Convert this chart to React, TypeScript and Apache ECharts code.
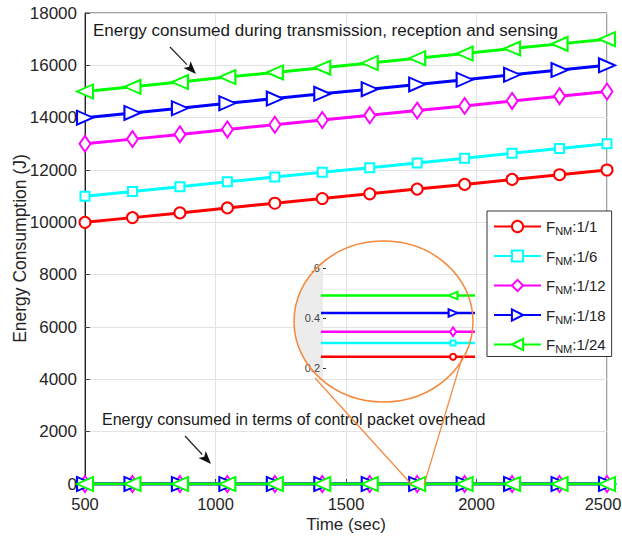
import React, { useEffect, useRef } from "react";
import * as echarts from "echarts";

// ---- data ----
const timeSec = [500, 681.8, 863.6, 1045.5, 1227.3, 1409.1, 1590.9, 1772.7, 1954.5, 2136.4, 2318.2, 2500];
const legendNames = ["FNM:1/1", "FNM:1/6", "FNM:1/12", "FNM:1/18", "FNM:1/24"];

// energy consumed during transmission, reception and sensing
const sense_1_1 = [10000, 10180, 10360, 10550, 10730, 10910, 11090, 11270, 11450, 11640, 11820, 12000];
const sense_1_6 = [11000, 11180, 11360, 11550, 11730, 11910, 12090, 12270, 12450, 12640, 12820, 13000];
const sense_1_12 = [13000, 13180, 13360, 13550, 13730, 13910, 14090, 14270, 14450, 14640, 14820, 15000];
const sense_1_18 = [14000, 14180, 14360, 14550, 14730, 14910, 15090, 15270, 15450, 15640, 15820, 16000];
const sense_1_24 = [15000, 15180, 15360, 15550, 15730, 15910, 16090, 16270, 16450, 16640, 16820, 17000];

// energy consumed in terms of control packet overhead
const ctrl_1_1 = [0.245, 0.245, 0.245, 0.245, 0.245, 0.245, 0.245, 0.245, 0.245, 0.245, 0.245, 0.245];
const ctrl_1_6 = [0.3, 0.3, 0.3, 0.3, 0.3, 0.3, 0.3, 0.3, 0.3, 0.3, 0.3, 0.3];
const ctrl_1_12 = [0.345, 0.345, 0.345, 0.345, 0.345, 0.345, 0.345, 0.345, 0.345, 0.345, 0.345, 0.345];
const ctrl_1_18 = [0.42, 0.42, 0.42, 0.42, 0.42, 0.42, 0.42, 0.42, 0.42, 0.42, 0.42, 0.42];
const ctrl_1_24 = [0.49, 0.49, 0.49, 0.49, 0.49, 0.49, 0.49, 0.49, 0.49, 0.49, 0.49, 0.49];

const mainYTicks = { min: 0, max: 18000, interval: 2000 };
const mainXTicks = { min: 500, max: 2500, interval: 500 };
const insetYTicks = { min: 0.2, max: 0.6, interval: 0.2 };

const senseSets = [sense_1_1, sense_1_6, sense_1_12, sense_1_18, sense_1_24];
const ctrlSets = [ctrl_1_1, ctrl_1_6, ctrl_1_12, ctrl_1_18, ctrl_1_24];

// ---- styles ----
const colors = ["#ff0000", "#00ffff", "#ff00ff", "#0000ff", "#00ff00"];
const symbols = ["emptyCircle", "emptyRect", "emptyDiamond", "emptyTriangle", "emptyTriangle"];
const symbolSizes: any[] = [11, 9, [11, 16], [14, 16], [14, 16]];
const symbolRotates = [0, 0, 0, -90, 90];
const borderWidths = [2.5, 2.5, 2.5, 3.5, 2.5];
const FONT = "Liberation Sans";
const NARROW = "Liberation Sans Narrow, Liberation Sans";

export default function App() {
  const ref = useRef<HTMLDivElement>(null);
  useEffect(() => {
    if (!ref.current) return;
    const chart = echarts.init(ref.current, undefined, { renderer: "svg" });

    const pair = (ys: number[]) => timeSec.map((x, i) => [x, ys[i]]);
    const series: any[] = [];
    const mk = (i: number, data: number[], xi: number, yi: number, scale: number, lw: number) => ({
      name: legendNames[i],
      type: "line",
      xAxisIndex: xi,
      yAxisIndex: yi,
      data: pair(data),
      symbol: symbols[i],
      symbolSize: Array.isArray(symbolSizes[i])
        ? symbolSizes[i].map((v: number) => v * scale)
        : symbolSizes[i] * scale,
      symbolRotate: symbolRotates[i],
      showAllSymbol: true,
      clip: true,
      lineStyle: { color: colors[i], width: lw },
      itemStyle: { color: colors[i], borderColor: colors[i], borderWidth: borderWidths[i] * scale },
      z: 3 + i,
    });
    for (let i = 0; i < 5; i++) series.push(mk(i, senseSets[i], 0, 0, 1, 3));
    for (let i = 0; i < 5; i++) series.push(mk(i, ctrlSets[i], 0, 0, 1, 3));
    for (let i = 0; i < 5; i++) series.push({ ...mk(i, ctrlSets[i], 1, 1, 0.55, 2.5), z: 20 + i });

    // inset ellipse geometry
    const cx = 383.5, cy = 321.5, rx = 89.5, ry = 80.5, insetLeft = 323;
    const c0 = (insetLeft - cx) / rx;
    const t0 = Math.acos(c0);
    const greyPts: number[][] = [];
    const steps = 40;
    for (let k = 0; k <= steps; k++) {
      const t = t0 + ((2 * Math.PI - 2 * t0) * k) / steps;
      greyPts.push([cx + rx * Math.cos(t), cy + ry * Math.sin(t)]);
    }

    const arrow = (x1: number, y1: number, x2: number, y2: number) => {
      const ang = Math.atan2(y2 - y1, x2 - x1);
      const L = 13, W = 5;
      const bx = x2 - L * Math.cos(ang), by = y2 - L * Math.sin(ang);
      const px = -Math.sin(ang) * W, py = Math.cos(ang) * W;
      return [
        { type: "line", shape: { x1, y1, x2: bx, y2: by }, style: { stroke: "#222", lineWidth: 1.2 }, z: 30 },
        {
          type: "polygon",
          shape: { points: [[x2, y2], [bx + px, by + py], [bx + 3 * Math.cos(ang), by + 3 * Math.sin(ang)], [bx - px, by - py]] },
          style: { fill: "#111" },
          z: 30,
        },
      ];
    };

    const annStyle = { fontFamily: FONT, fill: "#1a1a1a" };

    chart.setOption({
      animation: false,
      backgroundColor: "#fff",
      textStyle: { fontFamily: FONT },
      grid: [
        { left: 85, right: 15, top: 13, bottom: 59, show: true, borderColor: "#444", borderWidth: 1, backgroundColor: "transparent", outerBoundsMode: "none", containLabel: false },
        { left: 323, top: 268, width: 150, height: 100, show: false, outerBoundsMode: "none", containLabel: false },
      ],
      xAxis: [
        {
          type: "value", gridIndex: 0, ...mainXTicks,
          name: "Time (sec)", nameLocation: "middle", nameGap: 32, nameMoveOverlap: false,
          nameTextStyle: { fontSize: 17, color: "#262626", fontFamily: FONT },
          axisLine: { show: false },
          axisTick: { show: true, inside: true, length: 5, lineStyle: { color: "#444" } },
          axisLabel: {
            fontSize: 16.5, color: "#262626", margin: 11, fontFamily: NARROW,
            formatter: (v: number) => (v === mainXTicks.max ? `{r|${v}}` : String(v)),
            rich: { r: { fontSize: 16.5, color: "#262626", fontFamily: NARROW, padding: [0, 8, 0, 0] } },
          },
          splitLine: { show: true, lineStyle: { color: "#e3e3e3", width: 1 } },
        },
        {
          type: "value", gridIndex: 1, min: 1686, max: 1786, show: false,
        },
      ],
      yAxis: [
        {
          type: "value", gridIndex: 0, ...mainYTicks,
          name: "Energy Consumption (J)", nameLocation: "middle", nameGap: 56, nameMoveOverlap: false,
          nameTextStyle: { fontSize: 17.5, color: "#262626", fontFamily: FONT },
          axisLine: { show: true, lineStyle: { color: "#222", width: 1 } },
          axisTick: { show: true, inside: true, length: 5, lineStyle: { color: "#444" } },
          axisLabel: { fontSize: 17, color: "#262626", margin: 8, fontFamily: NARROW, formatter: (v: number) => String(v) },
          splitLine: { show: true, lineStyle: { color: "#e3e3e3", width: 1 } },
        },
        {
          type: "value", gridIndex: 1, ...insetYTicks, z: 5,
          axisLine: { show: false },
          axisTick: { show: true, inside: true, length: 3, lineStyle: { color: "#333" } },
          axisLabel: {
            fontSize: 11, color: "#444", margin: 3, fontFamily: FONT,
            formatter: (v: number) => (Math.abs(v - 0.6) < 1e-6 ? ".6" : v.toFixed(1)),
          },
          splitLine: { show: false },
        },
      ],
      legend: {
        data: legendNames,
        orient: "vertical",
        left: 487,
        top: 211,
        padding: [8, 6, 2, 6],
        itemGap: 12,
        itemWidth: 47,
        itemHeight: 14,
        backgroundColor: "#fff",
        borderColor: "#333",
        borderWidth: 1,
        borderRadius: 0,
        z: 40,
        formatter: (name: string) => `{a|F}{b|NM}{a|${name.slice(3)}}`,
        textStyle: {
          fontFamily: FONT,
          rich: {
            a: { fontSize: 15, color: "#222", lineHeight: 20, verticalAlign: "middle", fontFamily: NARROW },
            b: { fontSize: 11, color: "#222", lineHeight: 20, verticalAlign: "bottom", fontFamily: NARROW },
          },
        },
      },
      series,
      graphic: [
        { type: "polygon", shape: { points: greyPts }, style: { fill: "#ececec" }, z: 1, silent: true },
        { type: "ellipse", shape: { cx, cy, rx, ry }, style: { fill: "none", stroke: "#f5883a", lineWidth: 1.5 }, z: 35 },
        { type: "line", shape: { x1: 315, y1: 378, x2: 412, y2: 485 }, style: { stroke: "#f5883a", lineWidth: 1.2 }, z: 35 },
        { type: "line", shape: { x1: 462, y1: 358, x2: 424, y2: 485 }, style: { stroke: "#f5883a", lineWidth: 1.2 }, z: 35 },
        {
          type: "text", x: 93, y: 22, z: 30,
          style: { ...annStyle, fontSize: 17, text: "Energy consumed during transmission, reception and sensing" },
        },
        ...arrow(170, 47, 196, 74),
        {
          type: "text", x: 102, y: 411, z: 30,
          style: { ...annStyle, fontSize: 16, text: "Energy consumed in terms of control packet overhead" },
        },
        ...arrow(185, 436, 211, 464),
      ],
    });
    return () => chart.dispose();
  }, []);
  return <div ref={ref} style={{ position: "fixed", left: 0, top: 0, width: 622, height: 543, background: "#fff" }} />;
}
